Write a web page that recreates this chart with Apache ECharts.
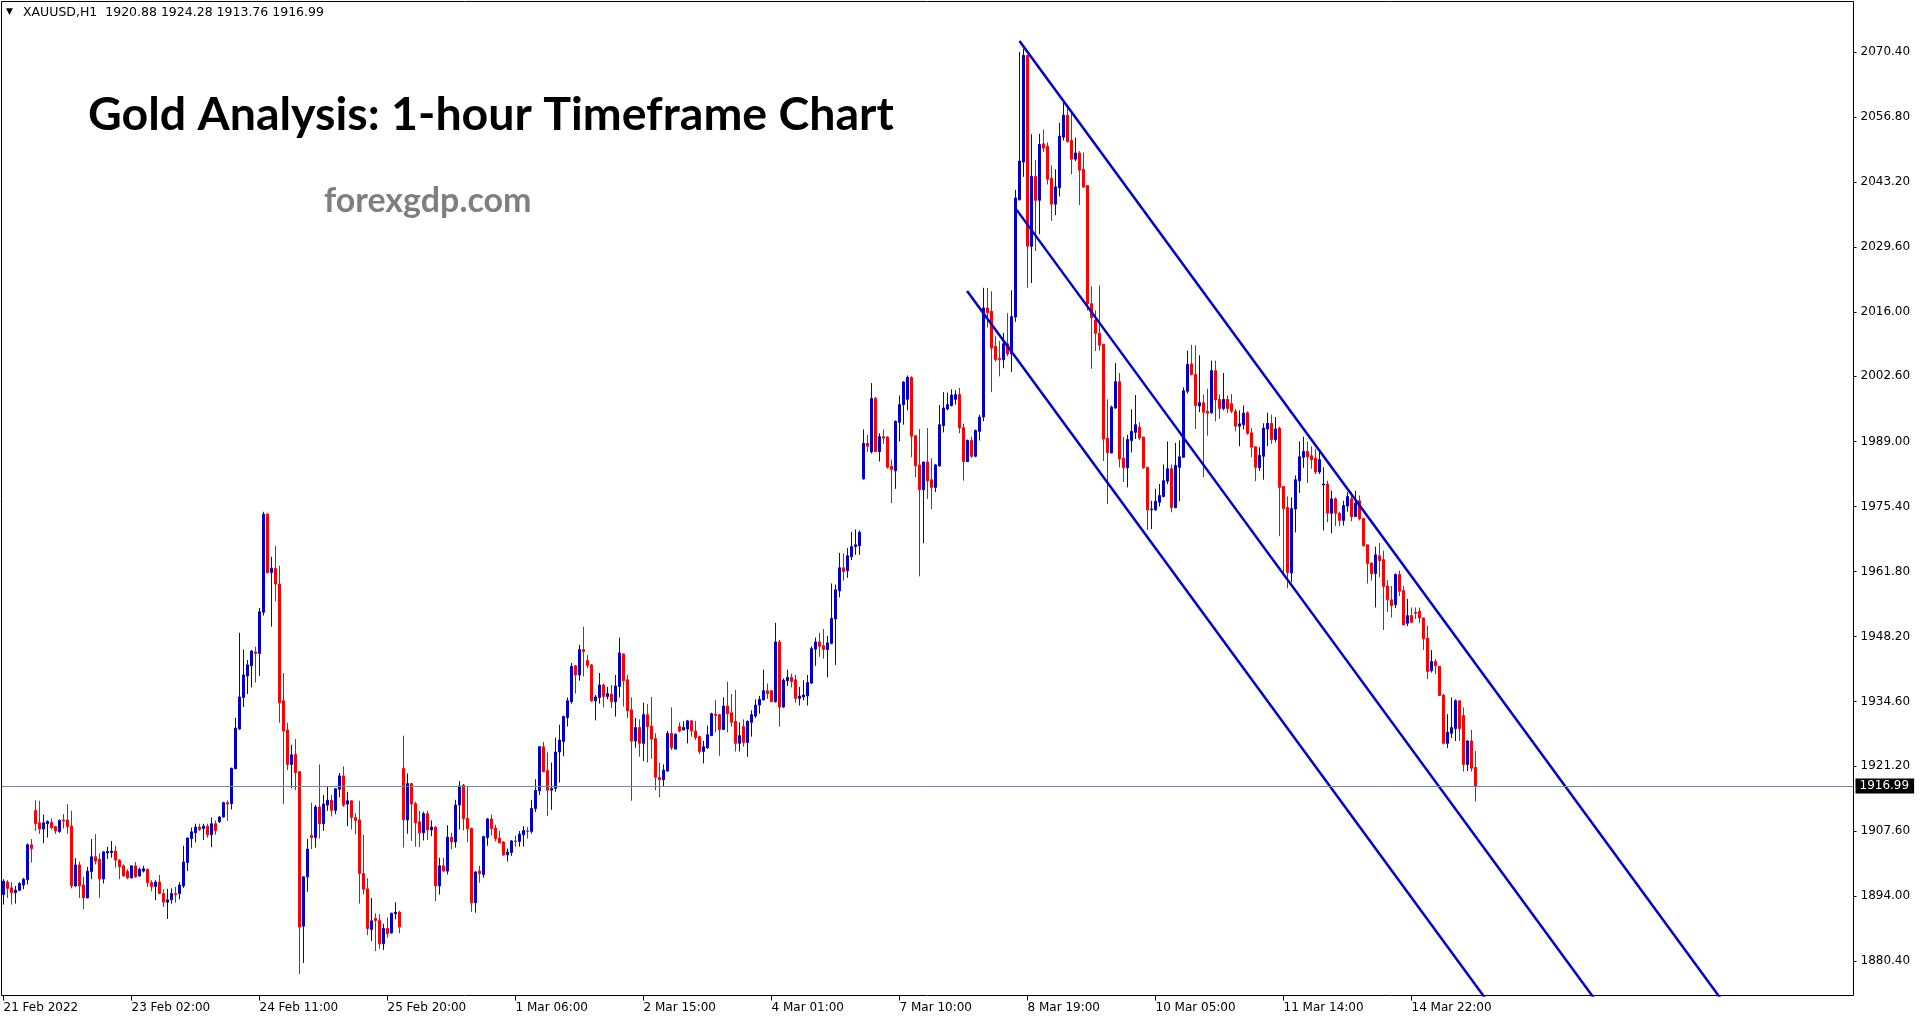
<!DOCTYPE html>
<html>
<head>
<meta charset="utf-8">
<script src="https://cdn.jsdelivr.net/npm/echarts@6.0.0/dist/echarts.min.js"></script>
<style>
html,body{margin:0;padding:0;background:#fff;}
#chart{width:1925px;height:1023px;}
</style>
</head>
<body>
<div id="chart"></div>
<script>
// ---------- DATA ----------
const tickLabels = ['21 Feb 2022','23 Feb 02:00','24 Feb 11:00','25 Feb 20:00','1 Mar 06:00','2 Mar 15:00',
  '4 Mar 01:00','7 Mar 10:00','8 Mar 19:00','10 Mar 05:00','11 Mar 14:00','14 Mar 22:00'];
const LABEL_STEP = 32;      // bars between time labels
const N_SLOTS = 463;        // bar slots visible on the time axis
const priceTicks = [1880.40,1894.00,1907.60,1921.20,1934.60,1948.20,1961.80,1975.40,1989.00,2002.60,2016.00,2029.60,2043.20,2056.80,2070.40];

const openP = [
1894.3,1896.9,1895.7,1894.7,1895.2,1896.3,1897.4,1904.7,1911.9,1909.3,
1908.0,1909.1,1909.4,1908.5,1907.5,1909.9,1909.9,1908.6,1896.1,1900.5,
1896.3,1893.6,1899.1,1902.2,1901.7,1897.6,1903.0,1903.1,1903.4,1901.5,
1900.3,1899.1,1897.8,1900.3,1898.2,1899.2,1899.6,1896.8,1896.0,1896.9,
1894.5,1892.7,1893.2,1894.5,1894.5,1896.1,1901.0,1906.0,1907.2,1908.4,
1908.1,1908.6,1906.8,1909.1,1909.5,1910.5,1913.5,1913.3,1920.6,1928.9,
1935.5,1940.0,1942.1,1945.0,1944.7,1953.3,1973.8,1961.6,1962.5,1959.2,
1934.8,1928.7,1921.5,1923.6,1920.0,1887.7,1898.0,1906.7,1906.2,1912.6,
1909.1,1913.0,1914.0,1911.9,1916.3,1919.1,1913.2,1913.9,1910.4,1909.9,
1898.7,1895.5,1887.0,1889.3,1888.9,1884.0,1887.2,1886.3,1890.3,1890.6,
1920.7,1909.9,1917.5,1913.3,1909.5,1907.2,1911.2,1907.8,1908.4,1896.1,
1900.3,1899.2,1906.3,1905.3,1913.0,1917.2,1910.2,1908.1,1892.6,1899.2,
1898.5,1906.2,1910.1,1908.2,1906.1,1905.3,1902.6,1903.1,1905.5,1905.4,
1906.8,1907.6,1907.5,1912.3,1916.0,1925.2,1920.2,1916.1,1916.5,1924.1,
1926.3,1931.3,1934.6,1942.1,1940.2,1945.5,1943.2,1942.3,1934.8,1935.5,
1938.1,1935.7,1936.2,1934.6,1937.8,1944.6,1939.2,1932.9,1926.4,1929.2,
1925.9,1931.9,1929.5,1926.9,1918.8,1918.3,1920.1,1928.0,1924.7,1929.4,
1928.7,1928.9,1930.6,1928.5,1927.3,1924.2,1925.0,1927.5,1932.0,1931.9,
1928.8,1933.7,1932.3,1930.5,1925.9,1929.4,1926.1,1930.3,1931.6,1933.9,
1935.0,1936.9,1936.9,1934.6,1947.1,1933.5,1939.0,1939.7,1939.2,1935.3,
1935.6,1935.8,1938.5,1945.6,1947.1,1946.3,1945.5,1946.8,1951.9,1957.8,
1962.6,1962.0,1964.9,1967.0,1967.2,1981.2,1988.6,1986.8,1998.0,1986.9,
1990.0,1989.9,1983.8,1982.9,1993.0,1996.7,1997.8,2002.4,1990.2,1984.1,
1978.9,1984.7,1981.0,1979.4,1983.9,1992.3,1995.8,1996.5,1997.8,1998.8,
1991.9,1984.8,1989.2,1985.9,1991.1,1994.1,2016.9,2016.2,2008.9,2006.4,
2006.1,2009.4,2007.3,2015.0,2039.5,2047.4,2069.7,2029.8,2044.4,2039.4,
2051.2,2050.7,2044.0,2038.6,2042.0,2052.6,2057.2,2051.9,2048.0,2049.3,
2045.9,2042.5,2017.8,2014.3,2011.6,2009.3,1989.7,1986.6,1996.0,2001.5,
1985.5,1983.5,1989.2,1990.9,1992.0,1989.9,1983.6,1974.7,1974.7,1976.3,
1977.5,1980.7,1983.3,1975.2,1983.6,1985.7,1999.5,2005.2,2003.0,1996.4,
1997.1,1995.3,1995.0,2003.8,1997.8,1995.9,1997.8,1996.9,1995.3,1992.2,
1992.5,1995.0,1990.8,1987.9,1983.5,1985.9,1991.6,1992.8,1989.4,1991.8,
1979.6,1975.2,1961.5,1974.9,1980.8,1985.7,1986.9,1986.0,1985.5,1982.6,
1979.9,1980.1,1974.0,1977.0,1974.0,1972.5,1975.5,1977.0,1973.3,1976.6,
1972.9,1967.4,1963.6,1961.4,1965.1,1964.3,1958.8,1955.9,1954.9,1961.2,
1957.8,1951.0,1952.6,1953.3,1953.5,1952.1,1947.9,1941.1,1943.0,1942.0,
1936.0,1925.9,1928.0,1929.0,1934.8,1931.7,1921.5,1926.4,1920.88];

const highP = [
1897.5,1897.3,1896.9,1896.1,1896.9,1897.8,1905.0,1905.9,1914.0,1913.9,
1911.0,1909.8,1910.2,1908.6,1910.0,1911.1,1913.2,1911.8,1901.9,1901.2,
1898.0,1900.1,1905.9,1906.9,1902.9,1903.4,1904.3,1905.5,1904.5,1901.7,
1900.6,1899.6,1900.3,1901.1,1899.9,1900.3,1899.7,1897.3,1897.3,1898.4,
1895.4,1895.5,1895.6,1895.9,1896.9,1904.5,1906.2,1908.3,1909.1,1909.1,
1909.1,1909.1,1910.4,1909.8,1910.7,1913.7,1914.0,1920.8,1931.2,1949.0,
1945.5,1943.3,1945.4,1946.1,1954.2,1974.3,1974.0,1964.9,1967.2,1963.0,
1940.6,1930.2,1925.6,1926.8,1920.1,1898.0,1905.9,1913.5,1913.0,1921.5,
1915.1,1916.9,1915.1,1916.5,1919.7,1921.1,1915.8,1913.9,1911.3,1913.9,
1906.8,1897.7,1893.6,1890.4,1890.2,1888.2,1889.5,1890.5,1892.7,1890.9,
1927.5,1919.6,1917.5,1913.7,1911.8,1911.6,1911.8,1909.8,1908.6,1902.0,
1902.0,1908.8,1907.2,1914.1,1918.0,1917.4,1916.9,1908.3,1899.2,1900.3,
1906.6,1910.3,1911.0,1908.9,1907.6,1905.5,1903.9,1905.7,1906.6,1907.6,
1908.6,1908.4,1914.1,1918.4,1925.2,1926.2,1924.0,1921.9,1927.1,1929.8,
1931.7,1935.5,1942.7,1942.3,1946.5,1950.3,1944.4,1942.5,1936.0,1940.6,
1938.4,1937.7,1938.1,1940.2,1948.0,1944.7,1940.2,1935.5,1931.2,1930.9,
1934.4,1934.1,1935.6,1928.0,1921.9,1921.5,1928.5,1933.4,1928.0,1930.3,
1930.5,1930.8,1930.8,1930.6,1927.5,1926.4,1929.6,1932.3,1935.0,1932.0,
1935.5,1938.8,1936.2,1937.1,1930.3,1930.9,1930.7,1932.8,1935.1,1935.8,
1941.3,1938.4,1937.0,1951.1,1947.5,1939.5,1941.3,1940.5,1940.2,1937.7,
1939.1,1940.2,1946.2,1948.0,1949.0,1949.8,1948.4,1959.3,1959.1,1965.7,
1965.6,1966.7,1970.1,1970.6,1970.4,1991.5,1990.4,2001.2,1998.3,1990.7,
1991.5,1990.1,1985.2,1993.4,1998.6,2001.6,2002.8,2002.6,1990.4,1991.6,
1984.7,1991.8,1985.5,1984.3,1996.6,1999.3,1999.2,1999.9,1999.7,2000.2,
1992.7,1989.4,1990.0,1991.5,1994.6,2021.1,2021.1,2020.4,2011.0,2010.0,
2011.7,2015.8,2020.6,2041.6,2070.4,2071.1,2069.7,2053.2,2047.8,2053.3,
2054.2,2051.5,2046.7,2045.9,2055.6,2059.8,2059.3,2057.9,2052.5,2049.7,
2049.4,2042.5,2021.4,2016.4,2021.6,2009.3,1997.8,1996.5,2005.4,2003.3,
1989.9,1990.4,1995.7,1998.7,1993.0,1990.0,1983.6,1976.6,1979.1,1980.1,
1984.2,1989.0,1984.2,1988.7,1989.2,2000.3,2008.0,2009.2,2009.1,2007.0,
1998.8,2000.0,2005.9,2005.9,1998.8,2003.3,1998.6,1998.9,1995.8,1995.5,
1996.5,1995.3,1991.8,1987.9,1987.8,1992.8,1995.0,1994.6,1994.1,1992.1,
1979.6,1977.5,1977.3,1981.9,1989.0,1990.0,1989.0,1988.0,1987.4,1986.8,
1983.6,1980.8,1978.7,1977.3,1974.3,1976.6,1978.4,1978.4,1978.7,1977.7,
1972.9,1967.4,1963.7,1967.0,1967.8,1966.2,1960.0,1958.8,1961.4,1962.0,
1958.8,1956.1,1954.3,1954.3,1954.3,1952.2,1950.5,1945.4,1943.5,1942.0,
1936.2,1932.0,1935.5,1935.1,1934.8,1933.4,1926.6,1928.7,1924.28];

const lowP = [
1892.2,1893.6,1892.2,1892.4,1895.0,1895.4,1896.4,1901.0,1907.6,1907.0,
1905.0,1906.2,1907.9,1907.0,1907.2,1908.1,1907.0,1895.6,1895.9,1893.6,
1891.2,1893.5,1897.5,1900.6,1893.6,1896.6,1901.7,1902.0,1899.9,1897.5,
1898.0,1897.5,1897.6,1897.8,1898.0,1898.9,1895.9,1895.0,1893.1,1894.5,
1891.7,1889.2,1892.4,1892.6,1893.3,1895.7,1899.2,1904.1,1905.2,1907.6,
1905.7,1906.2,1904.2,1906.8,1909.3,1910.4,1909.7,1912.1,1920.5,1928.7,
1933.5,1936.2,1937.6,1938.6,1940.0,1952.6,1961.4,1950.3,1955.6,1930.2,
1913.2,1920.3,1916.5,1916.1,1877.7,1880.0,1894.9,1903.8,1904.1,1906.0,
1907.6,1911.8,1910.6,1911.1,1914.6,1912.6,1908.6,1907.9,1906.9,1892.4,
1894.3,1885.8,1884.6,1882.5,1883.0,1882.7,1885.3,1886.1,1889.1,1886.2,
1904.1,1907.0,1905.5,1904.3,1904.2,1905.6,1905.7,1906.5,1892.9,1894.3,
1899.1,1898.5,1903.8,1904.1,1907.9,1907.7,1905.2,1890.7,1890.5,1896.8,
1897.8,1904.5,1906.6,1905.4,1905.0,1902.4,1901.2,1902.4,1904.3,1904.3,
1904.3,1906.0,1907.0,1911.6,1915.1,1919.8,1910.7,1912.0,1915.8,1917.7,
1923.2,1929.4,1934.2,1936.3,1939.0,1939.9,1941.6,1934.6,1930.7,1934.2,
1933.4,1935.1,1933.3,1931.5,1935.5,1933.6,1931.2,1913.9,1925.0,1923.1,
1922.2,1921.9,1922.7,1916.1,1914.6,1916.8,1920.0,1924.5,1924.7,1928.2,
1928.7,1925.9,1927.3,1926.6,1923.6,1921.7,1924.7,1927.5,1928.2,1923.3,
1928.7,1928.2,1929.4,1924.2,1924.2,1925.2,1923.1,1927.3,1931.2,1932.1,
1934.8,1935.2,1934.6,1934.4,1929.4,1933.3,1937.9,1937.6,1934.4,1933.8,
1934.9,1933.8,1938.3,1942.1,1944.0,1943.6,1939.7,1946.6,1942.3,1956.4,
1959.9,1960.5,1964.2,1965.3,1965.3,1981.0,1986.8,1986.5,1986.8,1984.8,
1988.5,1983.3,1976.1,1979.1,1989.0,1992.5,1995.5,1985.7,1981.5,1960.8,
1967.7,1977.0,1974.8,1978.4,1983.7,1990.9,1995.5,1996.3,1996.7,1990.7,
1980.8,1984.7,1985.6,1985.7,1989.2,1993.2,2012.8,1999.3,2005.7,2002.6,
2004.3,2006.8,2003.5,2014.0,2039.4,2044.3,2021.1,2022.1,2028.8,2032.3,
2049.5,2042.7,2035.1,2036.3,2040.2,2051.9,2051.4,2044.8,2047.6,2038.4,
2042.0,2016.4,2004.2,2007.9,2008.0,1984.9,1975.9,1986.5,1995.8,1983.6,
1980.5,1979.4,1986.7,1989.5,1989.3,1983.3,1970.5,1970.7,1974.5,1975.4,
1977.3,1980.1,1974.2,1975.0,1976.5,1985.6,1999.0,2002.8,1991.6,1995.1,
1981.5,1990.2,1994.8,1993.2,1993.7,1995.5,1994.9,1994.9,1991.1,1988.0,
1991.5,1990.4,1985.7,1980.7,1982.8,1981.0,1988.0,1988.5,1988.8,1969.2,
1961.6,1958.3,1959.6,1970.0,1978.2,1983.5,1980.3,1983.3,1982.2,1982.2,
1970.4,1972.1,1969.8,1971.3,1971.3,1971.4,1974.3,1972.3,1973.2,1972.5,
1967.0,1959.3,1959.9,1954.3,1960.6,1949.6,1953.3,1952.2,1954.2,1956.7,
1950.5,1950.4,1951.0,1951.9,1951.0,1945.4,1939.3,1940.7,1940.4,1935.8,
1925.7,1924.9,1927.0,1926.4,1926.4,1920.0,1920.1,1920.0,1913.76];

const closeP = [
1897.1,1895.6,1894.7,1895.2,1896.6,1897.5,1904.7,1903.9,1909.1,1908.0,
1909.3,1909.6,1908.3,1907.6,1909.8,1909.7,1908.5,1896.1,1900.5,1896.1,
1893.6,1899.2,1902.2,1901.3,1897.6,1903.2,1903.3,1903.4,1901.5,1900.1,
1898.2,1897.8,1900.3,1898.0,1899.6,1899.7,1896.8,1896.0,1896.9,1894.5,
1892.7,1893.2,1894.5,1894.3,1896.3,1901.1,1906.1,1907.4,1908.4,1907.9,
1908.6,1906.8,1909.1,1907.7,1910.5,1913.5,1913.2,1920.7,1929.1,1935.6,
1940.2,1942.3,1945.2,1944.7,1953.4,1973.8,1961.6,1962.5,1959.2,1934.4,
1928.5,1921.5,1923.5,1919.8,1887.5,1898.0,1903.8,1906.2,1912.6,1909.1,
1913.2,1914.0,1911.9,1916.4,1919.1,1913.0,1913.9,1910.4,1909.8,1898.7,
1895.4,1887.2,1888.8,1888.9,1884.0,1887.2,1886.1,1890.4,1890.6,1887.5,
1909.9,1917.5,1913.2,1909.3,1907.2,1911.2,1907.8,1908.4,1896.1,1900.3,
1899.2,1906.3,1905.3,1913.0,1917.0,1910.2,1908.1,1892.6,1899.0,1898.7,
1906.4,1910.1,1908.1,1906.0,1905.1,1902.6,1903.2,1905.5,1905.4,1906.9,
1907.7,1907.5,1912.3,1916.1,1925.2,1920.0,1916.1,1916.5,1924.1,1926.6,
1931.5,1934.8,1942.0,1940.2,1945.5,1945.1,1942.2,1934.8,1935.6,1938.1,
1935.7,1936.3,1934.6,1937.9,1944.8,1939.0,1932.7,1926.4,1929.2,1925.9,
1931.9,1929.4,1926.8,1918.8,1918.3,1920.3,1928.0,1925.0,1927.8,1928.5,
1929.2,1930.6,1928.5,1927.1,1924.2,1925.2,1927.7,1932.1,1931.7,1928.8,
1933.7,1932.1,1930.3,1925.9,1927.5,1926.1,1930.5,1931.9,1933.9,1935.1,
1936.9,1936.3,1934.6,1947.1,1933.5,1939.1,1939.7,1938.8,1935.3,1935.8,
1936.0,1938.6,1945.7,1947.1,1946.2,1945.5,1946.9,1952.0,1958.0,1962.6,
1961.8,1965.1,1967.0,1967.4,1970.0,1988.6,1988.0,1998.0,1986.9,1990.0,
1989.7,1983.6,1983.1,1993.2,1996.7,2001.4,2002.4,1990.1,1983.9,1978.9,
1984.7,1980.8,1979.4,1984.1,1992.5,1996.0,1996.7,1998.7,1998.8,1991.8,
1984.8,1989.2,1985.9,1991.3,1994.1,2016.9,2015.9,2008.5,2006.1,2006.1,
2009.4,2007.3,2015.1,2039.9,2047.6,2069.7,2029.8,2044.4,2039.4,2051.1,
2050.3,2043.8,2038.6,2042.2,2052.8,2057.2,2051.7,2048.0,2049.3,2045.7,
2042.2,2017.8,2014.9,2011.6,2009.1,1989.5,1986.7,1996.2,2001.5,1985.4,
1983.5,1989.4,1991.1,1992.5,1989.7,1983.5,1974.7,1974.9,1976.5,1977.7,
1980.8,1983.3,1975.2,1984.0,1985.8,1999.6,2005.1,2003.0,1996.5,1997.1,
1995.1,1994.9,2003.8,1997.7,1995.9,1997.8,1995.9,1995.3,1992.2,1992.7,
1994.9,1990.7,1987.8,1983.6,1986.1,1991.8,1992.8,1989.4,1991.6,1979.4,
1975.0,1961.6,1975.0,1981.0,1985.8,1986.9,1985.8,1985.2,1982.6,1985.2,
1980.1,1974.0,1977.0,1974.0,1972.5,1975.6,1977.5,1973.3,1976.1,1972.9,
1967.2,1963.5,1961.4,1965.3,1964.1,1958.7,1955.9,1954.7,1961.2,1957.7,
1950.7,1952.6,1951.2,1953.1,1952.1,1947.8,1940.9,1943.0,1942.1,1935.9,
1925.9,1928.2,1929.2,1934.8,1929.0,1921.5,1926.4,1920.7,1916.99];

// channel lines: [bar index, price]
const trendUpper  = [[254.0, 2072.7], [440.3, 1860.0]];
const trendMiddle = [[253.3, 2037.4], [408.7, 1860.0]];
const trendLower  = [[240.9, 2020.45], [381.5, 1860.0]];

const symbolName = 'XAUUSD,H1';
const titleText = 'Gold Analysis: 1-hour Timeframe Chart';
const siteText = 'forexgdp.com';

// ---------- CHART ----------
const last = openP.length - 1;
const lastClose = closeP[last];
const headerText = symbolName + '  ' + openP[last].toFixed(2) + ' ' + highP[last].toFixed(2) + ' ' +
  lowP[last].toFixed(2) + ' ' + lastClose.toFixed(2);

const categories = Array.from({length: N_SLOTS}, (_, i) => String(i));
const candleData = openP.map((o, i) => [o, closeP[i], lowP[i], highP[i]]);
const isLabelSlot = (idx) => idx % LABEL_STEP === 0 && idx / LABEL_STEP < tickLabels.length;

const BLUE = '#0000CD', RED = '#FF0000';
const AXIS_FONT = 'DejaVu Sans';

const chart = echarts.init(document.getElementById('chart'), null, {renderer: 'canvas'});
const trendSeries = (name, pts) => ({
  name, type: 'line', xAxisIndex: 1, yAxisIndex: 0, data: pts,
  symbol: 'none', clip: true, silent: true, animation: false,
  lineStyle: {color: BLUE, width: 2.5}
});

chart.setOption({
  animation: false,
  backgroundColor: '#ffffff',
  grid: {left: 1.5, top: 1.5, width: N_SLOTS * 4, height: 994, show: true, borderColor: '#000', borderWidth: 1,
         backgroundColor: '#fff', containLabel: false},
  xAxis: [{
    type: 'category', data: categories, boundaryGap: true, position: 'bottom',
    axisLine: {show: false, onZero: false},
    axisTick: {show: true, alignWithLabel: true, length: 5, lineStyle: {color: '#000', width: 1},
               interval: (idx) => isLabelSlot(idx)},
    axisLabel: {show: true, interval: (idx) => isLabelSlot(idx), align: 'left', margin: 6,
                fontFamily: AXIS_FONT, fontSize: 12, color: '#000', hideOverlap: false,
                formatter: (v) => tickLabels[Number(v) / LABEL_STEP] || ''},
    splitLine: {show: false}
  }, {
    type: 'value', min: -0.5, max: N_SLOTS - 0.5, show: false,
    axisLine: {onZero: false}
  }],
  yAxis: [{
    type: 'value', position: 'right', min: 1873.2, max: 2080.95, scale: true,
    axisLine: {show: false, onZero: false},
    axisTick: {show: true, length: 3, lineStyle: {color: '#000'}, customValues: priceTicks},
    axisLabel: {show: true, margin: 7, fontFamily: AXIS_FONT, fontSize: 12, color: '#000',
                customValues: priceTicks, formatter: (v) => Number(v).toFixed(2)},
    splitLine: {show: false}
  }],
  series: [{
    type: 'candlestick', data: candleData, barWidth: 2, large: false,
    itemStyle: {color: BLUE, color0: RED, borderColor: BLUE, borderColor0: RED, borderWidth: 1},
    markLine: {
      silent: true, symbol: ['none', 'none'], animation: false,
      lineStyle: {color: '#778899', width: 1, type: 'solid'},
      label: {show: true, position: 'end', distance: 2, formatter: lastClose.toFixed(2),
              color: '#fff', backgroundColor: '#000', padding: [2, 5, 1, 4],
              fontFamily: AXIS_FONT, fontSize: 12},
      emphasis: {disabled: true},
      data: [{yAxis: lastClose}]
    }
  },
  trendSeries('upper', trendUpper),
  trendSeries('middle', trendMiddle),
  trendSeries('lower', trendLower)
  ],
  graphic: [
    {type: 'text', silent: true, style: {text: '\u25BC', x: 6, y: 12, fill: '#000',
      font: '9px "DejaVu Sans"', textVerticalAlign: 'middle', verticalAlign: 'middle'}},
    {type: 'text', silent: true, style: {text: headerText, x: 23, y: 13, fill: '#000',
      font: '12.5px "DejaVu Sans"', textVerticalAlign: 'middle', verticalAlign: 'middle'}},
    {type: 'text', silent: true, style: {text: titleText, x: 88, y: 115, fill: '#000',
      font: 'bold 46.5px Lato', textVerticalAlign: 'middle', verticalAlign: 'middle'}},
    {type: 'text', silent: true, style: {text: siteText, x: 324, y: 201, fill: '#7f7f7f',
      font: 'bold 34px Lato', textVerticalAlign: 'middle', verticalAlign: 'middle'}}
  ]
});
</script>
</body>
</html>
